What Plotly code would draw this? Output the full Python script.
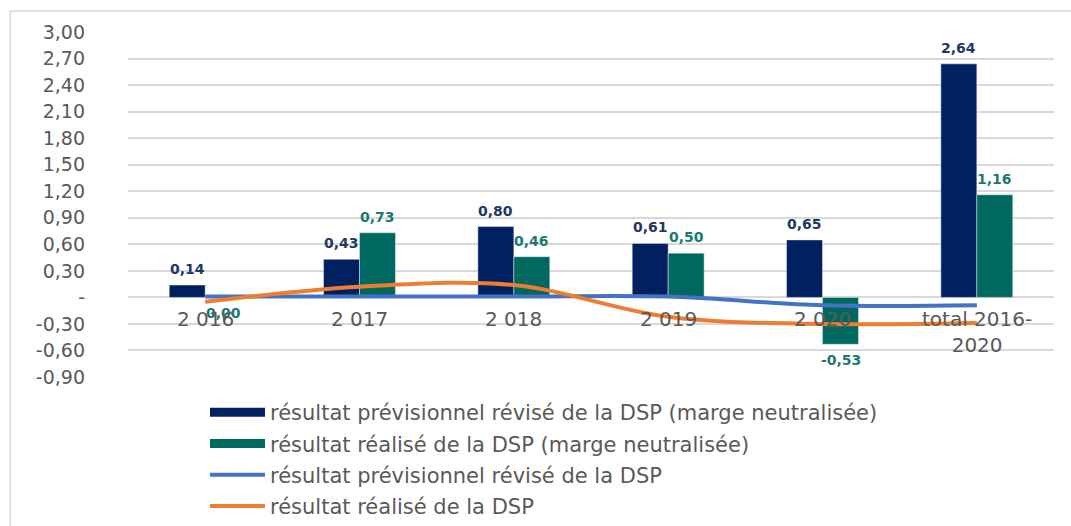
import plotly.graph_objects as go

categories = ["2 016", "2 017", "2 018", "2 019", "2 020", "total 2016-<br>2020"]
prev_neutral = [0.14, 0.43, 0.80, 0.61, 0.65, 2.64]
real_neutral = [0.00, 0.73, 0.46, 0.50, -0.53, 1.16]
prev_line = [0.01, 0.01, 0.01, 0.01, -0.09, -0.09]
real_line = [-0.05, 0.12, 0.14, -0.22, -0.30, -0.29]
tick_vals = [3.0, 2.7, 2.4, 2.1, 1.8, 1.5, 1.2, 0.9, 0.6, 0.3, 0.0, -0.3, -0.6, -0.9]
tick_text = ["3,00", "2,70", "2,40", "2,10", "1,80", "1,50", "1,20", "0,90", "0,60", "0,30",
             "-", "-0,30", "-0,60", "-0,90"]

names = [
    "résultat prévisionnel révisé de la DSP (marge neutralisée)",
    "résultat réalisé de la DSP (marge neutralisée)",
    "résultat prévisionnel révisé de la DSP",
    "résultat réalisé de la DSP",
]
NAVY = "#002060"
TEAL = "#00695F"
BLUE = "#4472C4"
ORANGE = "#ED7D31"

fig = go.Figure()
fig.add_trace(go.Bar(x=categories, y=prev_neutral, marker_color=NAVY, showlegend=False,
                     offsetgroup="a", hoverinfo="skip"))
fig.add_trace(go.Bar(x=categories, y=real_neutral, marker_color=TEAL, showlegend=False,
                     offsetgroup="b", hoverinfo="skip"))
fig.add_trace(go.Scatter(x=categories, y=prev_line, mode="lines", line=dict(color=BLUE, width=4, shape="spline"),
                         showlegend=False))
fig.add_trace(go.Scatter(x=categories, y=real_line, mode="lines", line=dict(color=ORANGE, width=4, shape="spline"),
                         showlegend=False))

# legend entries
for i, (nm, col, w) in enumerate(zip(names, [NAVY, TEAL, BLUE, ORANGE], [9, 9, 4, 4])):
    fig.add_trace(go.Scatter(x=[None], y=[None], mode="lines", name=nm,
                             line=dict(color=col, width=w), legendgroup=f"g{i}"))

annotations = []
# data labels
for vals, col, shift in [(prev_neutral, "#1F3864", -18), (real_neutral, "#1A7A70", 18)]:
    for c, v in zip(categories, vals):
        pos = v > 0
        annotations.append(dict(
            x=c, y=v, xref="x", yref="y", text=f"{v:.2f}".replace(".", ","),
            showarrow=False, xshift=shift, yshift=6 if pos else -6,
            yanchor="bottom" if pos else "top",
            font=dict(family="DejaVu Sans", size=14, color=col, weight="bold")))
# category labels at zero line
for c in categories:
    annotations.append(dict(x=c, y=0, xref="x", yref="y", text=c, showarrow=False,
                            yanchor="top", yshift=-8,
                            font=dict(family="DejaVu Sans", size=20, color="#595959")))

fig.update_layout(
    width=1071, height=526,
    margin=dict(l=128, r=17, t=32, b=149, autoexpand=False),
    plot_bgcolor="white", paper_bgcolor="white",
    barmode="group", bargap=0.534, bargroupgap=0,
    xaxis=dict(showticklabels=False, showgrid=False, zeroline=False, showline=False, ticks="",
               automargin=False),
    yaxis=dict(range=[-0.9, 3.0], tickvals=tick_vals, ticktext=tick_text, automargin=False,
               showgrid=True, gridcolor="#D9D9D9", gridwidth=1.5,
               zeroline=True, zerolinecolor="#D9D9D9", zerolinewidth=1.5,
               showline=False, ticks="", ticklabelstandoff=42,
               tickfont=dict(family="DejaVu Sans", size=19, color="#595959")),
    legend=dict(xref="container", yref="container", x=0.1914, y=0.2548, xanchor="left", yanchor="top",
                font=dict(family="DejaVu Sans", size=21, color="#595959"),
                tracegroupgap=1, traceorder="grouped", itemwidth=55,
                bgcolor="rgba(0,0,0,0)"),
    annotations=annotations,
    shapes=[dict(type="rect", xref="paper", yref="paper", x0=-0.1273, x1=1.08, y0=-0.7, y1=1.061,
                 line=dict(color="#D9D9D9", width=1.5), fillcolor="rgba(0,0,0,0)", layer="below")],
    showlegend=True,
)

fig.write_html("out.html", post_script="document.body.style.margin='0px';",
               config={"displayModeBar": False})
